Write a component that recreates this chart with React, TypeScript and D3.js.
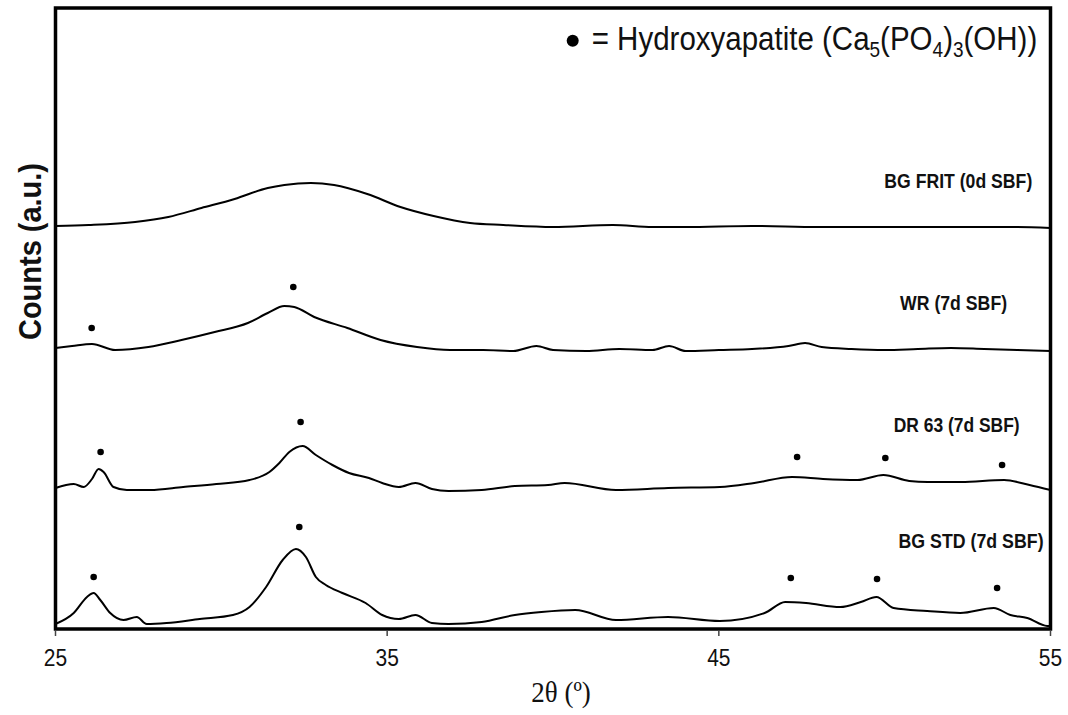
import React from "react";
import * as d3 from "d3";

// XRD patterns, [2θ, counts (a.u.)]
const bgFrit: [number, number][] = [
  [25.0, 403], [26.0, 404], [27.4, 407], [28.4, 412], [29.4, 421], [30.4, 430],
  [31.4, 441], [31.9, 444], [32.7, 446], [33.4, 444], [34.4, 435], [35.4, 422],
  [36.4, 413], [37.5, 406], [38.5, 404], [40.0, 402], [41.8, 404], [43.0, 402],
  [44.0, 402], [46.0, 403], [48.0, 402], [50.0, 402], [52.0, 402], [54.0, 402],
  [55.0, 401],
];

const wr: [number, number][] = [
  [25.0, 281], [25.5, 283], [26.1, 285], [26.8, 279], [27.8, 282], [28.8, 289],
  [29.8, 297], [30.8, 306], [31.4, 316], [31.9, 323], [32.2, 322], [32.8, 312],
  [33.8, 301], [34.8, 289], [35.9, 282], [36.9, 279], [37.9, 279], [38.8, 278],
  [39.5, 283], [40.0, 279], [41.0, 278], [42.0, 280], [43.0, 279], [43.5, 283],
  [44.0, 278], [45.0, 279], [46.0, 280], [47.1, 283], [47.6, 286], [48.1, 282],
  [49.0, 280], [50.0, 279], [51.0, 280], [52.0, 281], [53.0, 280], [54.0, 279],
  [55.0, 278],
];

const dr63: [number, number][] = [
  [25.0, 141], [25.55, 145], [25.85, 142], [26.1, 150], [26.3, 160], [26.45, 157],
  [26.75, 142], [27.15, 139], [27.85, 139], [28.85, 142], [29.85, 145], [30.85, 149],
  [31.45, 157], [31.75, 166], [32.05, 177], [32.45, 183], [32.85, 174], [33.35, 164],
  [33.85, 156], [34.45, 151], [34.85, 146], [35.35, 142], [35.85, 146], [36.35, 140],
  [36.85, 138], [37.85, 139], [38.85, 143], [39.85, 144], [40.35, 146], [41.9, 139],
  [43.47, 141], [45.03, 142], [46.07, 146], [47.21, 152], [48.14, 150], [49.18, 149],
  [49.96, 154], [50.74, 148], [51.3, 147], [52.3, 147], [53.6, 149], [54.37, 144],
  [55.0, 139],
];

const bgStd: [number, number][] = [
  [25.0, 5], [25.55, 16], [25.95, 32], [26.15, 36], [26.35, 29], [26.65, 16],
  [27.05, 9], [27.45, 12], [27.75, 5], [28.35, 6], [29.35, 10], [30.35, 14],
  [30.85, 22], [31.35, 42], [31.85, 69], [32.25, 80], [32.55, 72], [32.85, 52],
  [33.15, 44], [33.65, 36], [34.35, 26], [34.85, 14], [35.35, 10], [35.85, 14],
  [36.35, 6], [36.85, 5], [37.85, 7], [38.85, 14], [39.65, 17], [40.67, 19],
  [41.9, 9], [43.47, 12], [45.03, 8], [46.38, 16], [47.0, 27], [47.63, 26],
  [48.66, 22], [49.28, 27], [49.75, 32], [50.27, 21], [51.28, 18], [52.28, 16],
  [53.29, 21], [53.79, 14], [54.3, 11], [54.9, 3], [55.0, 3],
];

// hydroxyapatite peak markers [2θ, counts]
const wrMarks: [number, number][] = [[26.09, 301], [32.17, 342]];
const dr63Marks: [number, number][] = [[26.36, 177], [32.39, 207], [47.36, 172], [50.02, 171], [53.54, 164]];
const bgStdMarks: [number, number][] = [[26.15, 52], [32.35, 102], [47.17, 51], [49.77, 50], [53.39, 41]];

const seriesNames = ["BG FRIT (0d SBF)", "WR (7d SBF)", "DR 63 (7d SBF)", "BG STD (7d SBF)"];
const xTicks = [25, 35, 45, 55];

const W = 1068;
const H = 715;
const margin = { top: 8, right: 17.5, bottom: 86, left: 55.5 };

export default function App() {
  const x = d3.scaleLinear().domain([25, 55]).range([margin.left, W - margin.right]);
  const y = d3.scaleLinear().domain([0, 621]).range([H - margin.bottom, margin.top]);

  const line = d3
    .line<[number, number]>()
    .x((d) => x(d[0]))
    .y((d) => y(d[1]))
    .curve(d3.curveMonotoneX);

  const series = [bgFrit, wr, dr63, bgStd];
  const marks = [wrMarks, dr63Marks, bgStdMarks];

  // label anchors (text end, baseline) in data units, with the printed width
  const labels = [
    { text: seriesNames[0], at: [54.45, 440.7], w: 148 },
    { text: seriesNames[1], at: [53.69, 319], w: 107 },
    { text: seriesNames[2], at: [54.07, 197], w: 126 },
    { text: seriesNames[3], at: [54.79, 80.7], w: 145 },
  ];

  const sans = "'Liberation Sans', Arial, sans-serif";
  const narrow = "'Liberation Sans Narrow', 'Liberation Sans', Arial, sans-serif";
  const stretch = 1.12; // the original figure is slightly taller than wide

  return (
    <svg
      width={W}
      height={H}
      style={{ position: "absolute", left: 0, top: 0, background: "#fff" }}
    >
      <rect width={W} height={H} fill="#fff" />

      {series.map((s, i) => (
        <path key={i} d={line(s) || ""} fill="none" stroke="#000" strokeWidth={2} strokeLinejoin="round" />
      ))}

      {marks.flat().map((m, i) => (
        <circle key={i} cx={x(m[0])} cy={y(m[1])} r={3.3} fill="#000" />
      ))}

      {labels.map((l) => (
        <text
          key={l.text}
          transform={`translate(${x(l.at[0])},${y(l.at[1])}) scale(1,${stretch})`}
          textAnchor="end"
          fontFamily={narrow}
          fontWeight="bold"
          fontSize={18}
          textLength={l.w}
          lengthAdjust="spacingAndGlyphs"
          fill="#111"
        >
          {l.text}
        </text>
      ))}

      {/* frame */}
      <rect
        x={margin.left}
        y={margin.top}
        width={W - margin.right - margin.left}
        height={H - margin.bottom - margin.top}
        fill="none"
        stroke="#000"
        strokeWidth={3.5}
      />

      {xTicks.map((t) => (
        <g key={t}>
          <line x1={x(t)} x2={x(t)} y1={H - margin.bottom + 1.5} y2={H - margin.bottom + 7} stroke="#444" strokeWidth={1.5} />
          <text
            transform={`translate(${x(t)},665.5) scale(1,${stretch})`}
            textAnchor="middle"
            fontFamily={sans}
            fontSize={21}
            fill="#111"
          >
            {t}
          </text>
        </g>
      ))}

      <text
        transform={`translate(561,702) scale(1,${stretch})`}
        textAnchor="middle"
        fontFamily="'Liberation Serif', 'Times New Roman', serif"
        fontSize={27}
        fill="#111"
      >
        2θ (º)
      </text>

      <text
        transform="translate(41,251.5) rotate(-90)"
        textAnchor="middle"
        fontFamily={sans}
        fontWeight="bold"
        fontSize={31}
        textLength={177}
        lengthAdjust="spacingAndGlyphs"
        fill="#111"
      >
        Counts (a.u.)
      </text>

      {/* legend */}
      <circle cx={572.7} cy={40.7} r={6} fill="#000" />
      <text
        transform={`translate(591.7,50) scale(1,${stretch})`}
        fontFamily={sans}
        fontSize={29.5}
        fill="#111"
      >
        = Hydroxyapatite (Ca
        <tspan fontSize={19} dy={6}>5</tspan>
        <tspan dy={-6}>(PO</tspan>
        <tspan fontSize={19} dy={6}>4</tspan>
        <tspan dy={-6}>)</tspan>
        <tspan fontSize={19} dy={6}>3</tspan>
        <tspan dy={-6}>(OH))</tspan>
      </text>
    </svg>
  );
}
